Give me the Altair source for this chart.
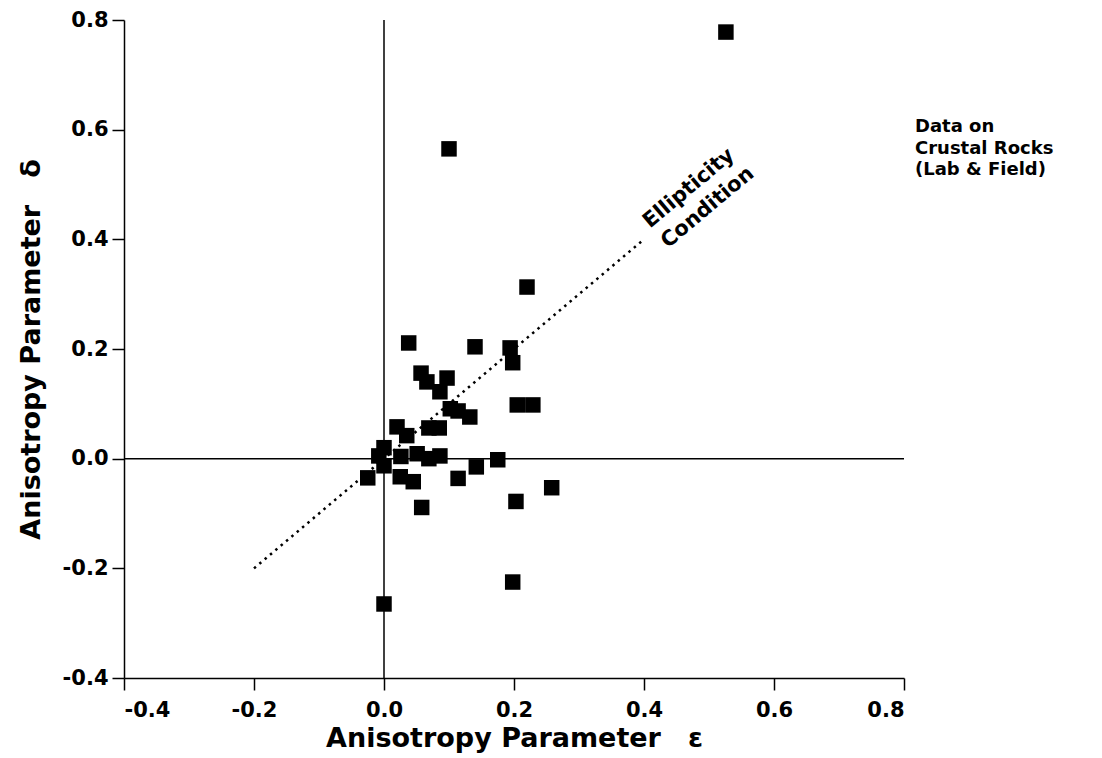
import altair as alt
import pandas as pd

# Data
epsilon = [0.526, 0.100, 0.220, 0.038, 0.140, 0.194, 0.198, 0.057, 0.066, 0.097,
           0.086, 0.102, 0.114, 0.132, 0.205, 0.229, 0.069, 0.085, 0.020, 0.035,
           0.000, -0.008, 0.000, -0.025, 0.026, 0.051, 0.069, 0.086, 0.025, 0.045,
           0.114, 0.058, 0.142, 0.175, 0.258, 0.203, 0.198, 0.000]
delta = [0.778, 0.565, 0.313, 0.211, 0.204, 0.202, 0.175, 0.156, 0.140, 0.147,
         0.122, 0.091, 0.087, 0.076, 0.098, 0.098, 0.056, 0.056, 0.058, 0.042,
         0.020, 0.005, -0.013, -0.035, 0.004, 0.009, 0.000, 0.005, -0.033, -0.042,
         -0.036, -0.089, -0.015, -0.002, -0.053, -0.078, -0.225, -0.265]

ellipticity_eps = [-0.2, 0.4]
ellipticity_delta = [-0.2, 0.4]

tick_values = [-0.4, -0.2, 0.0, 0.2, 0.4, 0.6, 0.8]

note_text = ["Ellipticity", "Condition"]
note_eps = [0.469, 0.498]
note_delta = [0.493, 0.458]

side_text = ["Data on", "Crustal Rocks", "(Lab & Field)"]

pts = pd.DataFrame({"eps": epsilon, "delta": delta})
line_df = pd.DataFrame({"eps": ellipticity_eps, "delta": ellipticity_delta})
notes = pd.DataFrame({"label": note_text, "eps": note_eps, "delta": note_delta})
one = pd.DataFrame({"k": [0]})

FONT = "DejaVu Sans"
label_expr = "datum.value < 0 ? '-' + format(-datum.value, '.1f') : format(datum.value, '.1f')"

xscale = alt.Scale(domain=[-0.4, 0.8], nice=False, zero=False)
yscale = alt.Scale(domain=[-0.4, 0.8], nice=False, zero=False)

xaxis = alt.Axis(values=tick_values, labelExpr=label_expr,
                 title="Anisotropy Parameter\u2003ε", titlePadding=5, labelPadding=9)
yaxis = alt.Axis(values=tick_values, labelExpr=label_expr,
                 title="Anisotropy Parameter\u2003δ", titlePadding=17, labelPadding=4)

base_x = alt.X("eps:Q", scale=xscale, axis=xaxis)
base_y = alt.Y("delta:Q", scale=yscale, axis=yaxis)

points = alt.Chart(pts).mark_square(size=240, color="black", opacity=1, filled=True).encode(
    x=base_x, y=base_y
)

vline = alt.Chart(one).mark_rule(color="black", strokeWidth=1.5).encode(x=alt.datum(0))
hline = alt.Chart(one).mark_rule(color="black", strokeWidth=1.5).encode(y=alt.datum(0))

dotted = alt.Chart(line_df).mark_line(
    color="black", strokeWidth=2.5, strokeDash=[2.5, 4.5], strokeCap="butt"
).encode(x="eps:Q", y="delta:Q")

note_marks = alt.Chart(notes).mark_text(
    font=FONT, fontWeight="bold", fontSize=21, angle=320, align="center",
    baseline="middle", color="black"
).encode(x="eps:Q", y="delta:Q", text="label:N")

side = alt.Chart(one).mark_text(
    font=FONT, fontWeight="bold", fontSize=18, align="left", baseline="alphabetic",
    lineHeight=21.7, color="black"
).encode(x=alt.value(791), y=alt.value(112), text=alt.value(side_text))

chart = alt.layer(vline, hline, dotted, points, note_marks, side).properties(
    width=780, height=658,
    autosize=alt.AutoSizeParams(type="none"),
    padding={"left": 116, "top": 12, "right": 180, "bottom": 80},
).configure_view(strokeWidth=0).configure_axis(
    grid=False, domainColor="black", domainWidth=1.5, tickColor="black", tickWidth=1.5,
    tickSize=12, labelFont=FONT, labelFontWeight="bold", labelFontSize=21, labelColor="black",
    titleFont=FONT, titleFontWeight="bold", titleFontSize=27, titleColor="black"
)

chart.save("out.html", embed_options={"renderer": "svg", "actions": False})
